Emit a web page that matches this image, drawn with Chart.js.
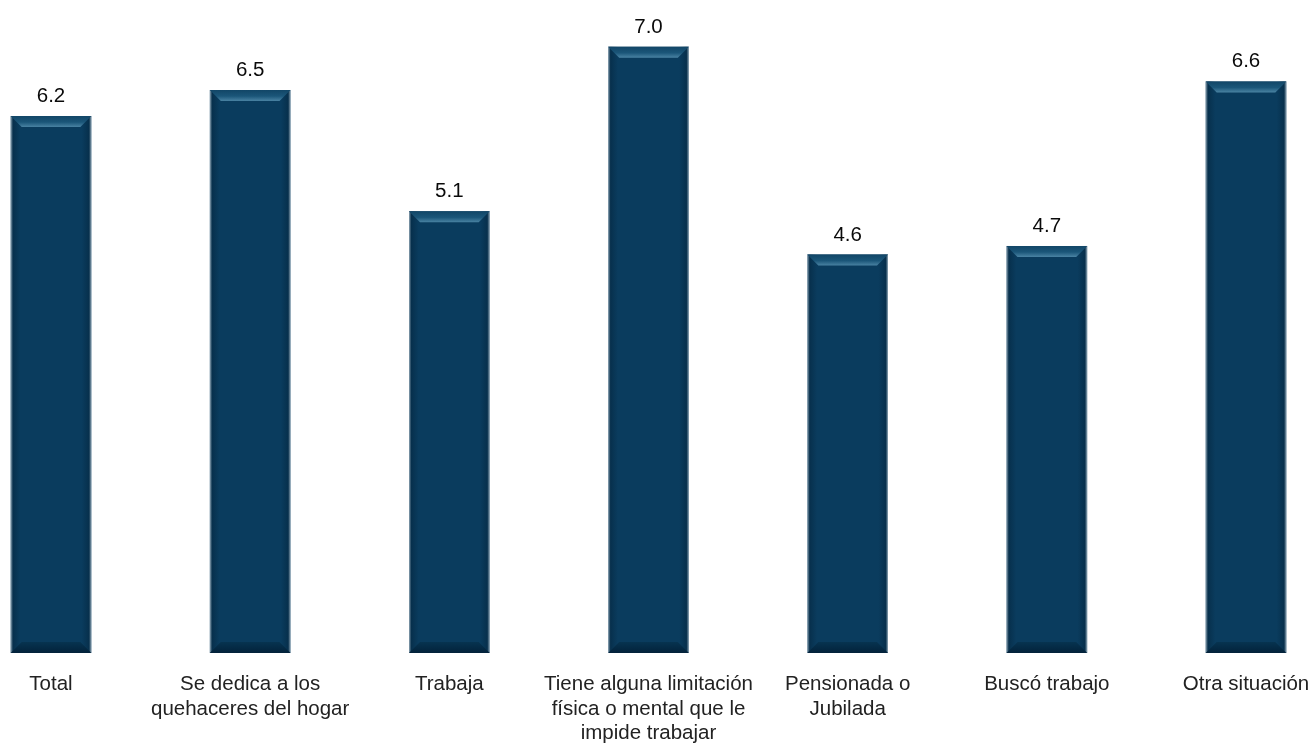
<!DOCTYPE html>
<html>
<head>
<meta charset="utf-8">
<script src="https://cdn.jsdelivr.net/npm/chart.js@4/dist/chart.umd.min.js"></script>
<style>
  html, body { margin: 0; padding: 0; background: #fff; overflow: hidden; }
  #wrap { width: 1314px; height: 744px; position: relative; }
</style>
</head>
<body>
<div id="wrap"><canvas id="grafica"></canvas></div>
<script>
// categorias y valores
const categorias = [
  'Total',
  ['Se dedica a los', 'quehaceres del hogar'],
  'Trabaja',
  ['Tiene alguna limitación', 'física o mental que le', 'impide trabajar'],
  ['Pensionada o', 'Jubilada'],
  'Buscó trabajo',
  'Otra situación'
]
const valores = [6.2, 6.5, 5.1, 7.0, 4.6, 4.7, 6.6]

const colorBarra = '#0a3c5e'
const fuente = '"Liberation Sans", Arial, sans-serif'

// plugin para el efecto biselado de las barras y las etiquetas de valor
const biselPlugin = {
  id: 'bisel',
  afterDatasetsDraw(chart) {
    const ctx = chart.ctx
    const meta = chart.getDatasetMeta(0)
    meta.data.forEach((bar, i) => {
      const { x, y, width, base } = bar.getProps(['x', 'y', 'width', 'base'], true)
      const l = x - width / 2
      const r = x + width / 2
      const b = 11
      ctx.save()
      // lados
      let g = ctx.createLinearGradient(l, 0, r, 0)
      g.addColorStop(0, 'rgba(170,188,200,0.9)')
      g.addColorStop(0.03, 'rgba(5,40,65,0.6)')
      g.addColorStop(0.12, 'rgba(5,40,65,0)')
      g.addColorStop(0.88, 'rgba(5,40,65,0)')
      g.addColorStop(0.97, 'rgba(5,40,65,0.6)')
      g.addColorStop(1, 'rgba(170,188,200,0.9)')
      ctx.fillStyle = g
      ctx.fillRect(l, y, width, base - y)
      // parte superior
      ctx.beginPath()
      ctx.moveTo(l, y)
      ctx.lineTo(r, y)
      ctx.lineTo(r - b, y + b)
      ctx.lineTo(l + b, y + b)
      ctx.closePath()
      g = ctx.createLinearGradient(0, y, 0, y + b)
      g.addColorStop(0, '#124667')
      g.addColorStop(0.55, '#1b5679')
      g.addColorStop(1, '#4a83a3')
      ctx.fillStyle = g
      ctx.fill()
      // parte inferior
      ctx.beginPath()
      ctx.moveTo(l, base)
      ctx.lineTo(r, base)
      ctx.lineTo(r - b, base - b)
      ctx.lineTo(l + b, base - b)
      ctx.closePath()
      g = ctx.createLinearGradient(0, base - b, 0, base)
      g.addColorStop(0, '#073350')
      g.addColorStop(1, '#02223a')
      ctx.fillStyle = g
      ctx.fill()
      // etiqueta de valor
      ctx.fillStyle = '#0a0a0a'
      ctx.font = '20.5px ' + fuente
      ctx.textAlign = 'center'
      ctx.textBaseline = 'alphabetic'
      ctx.fillText(valores[i].toFixed(1), x, y - 14)
      ctx.restore()
    })
  }
}

const canva = document.querySelector('#grafica')
const myChart = new Chart(canva, {
  type: 'bar',
  data: {
    labels: categorias,
    datasets: [{
      data: valores,
      backgroundColor: colorBarra,
      borderWidth: 0,
      categoryPercentage: 1,
      barPercentage: 0.405,
      clip: false
    }]
  },
  options: {
    responsive: true,
    maintainAspectRatio: false,
    animation: false,
    layout: { padding: { left: 51, right: 68, top: 0, bottom: -20.8 } },
    plugins: {
      legend: { display: false },
      tooltip: { enabled: false }
    },
    scales: {
      x: {
        offset: false,
        grid: { display: false, drawTicks: false },
        border: { display: false },
        // quitamos el padding que calcula la escala por las etiquetas
        afterFit(scale) {
          scale.paddingLeft = 0
          scale.paddingRight = 0
        },
        ticks: {
          color: '#222',
          padding: 19,
          maxRotation: 0,
          autoSkip: false,
          font: { family: fuente, size: 20.5, lineHeight: 1.2 }
        }
      },
      y: {
        display: false,
        min: 0,
        max: 7.54
      }
    }
  },
  plugins: [biselPlugin]
})
</script>
</body>
</html>
